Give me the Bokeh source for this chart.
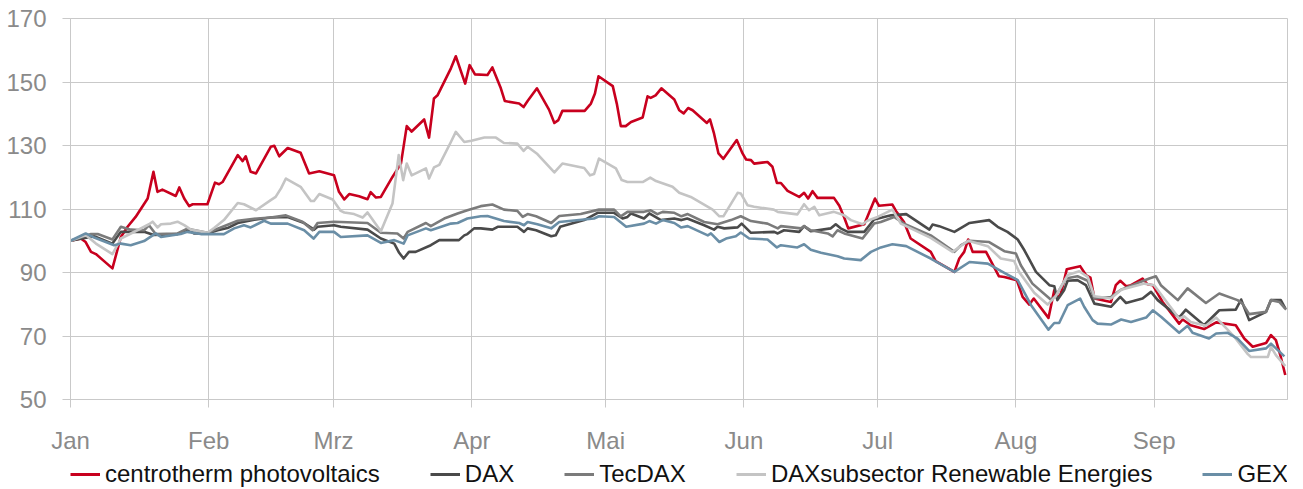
from bokeh.plotting import figure
from bokeh.models import FixedTicker, Legend, LegendItem
from bokeh.layouts import column
from bokeh.embed import file_html
from bokeh.resources import INLINE

# x values: days since 1 January
month_days = [0, 31, 59, 90, 120, 151, 181, 212, 243]
month_labels = ["Jan", "Feb", "Mrz", "Apr", "Mai", "Jun", "Jul", "Aug", "Sep"]
y_ticks = [50, 70, 90, 110, 130, 150, 170]

cp_days = [0, 2.3, 3.4, 4.6, 5.7, 9.4, 11.3, 12.8, 14.6, 17.3,
           18.6, 19.5, 20.6, 23.6, 24.4, 25.5, 26.6, 27.4, 30.7, 32.4,
           33.3, 34.1, 37.5, 38.6, 39.3, 40.4, 41.6, 44.9, 45.7, 46.8,
           48.7, 51.6, 53.5, 55.8, 59.1, 60.2, 61.4, 62.5, 64.7, 66.6,
           67.3, 68.5, 69.6, 72.2, 74.1, 75.4, 76.5, 79.3, 80.4, 81.5,
           82.3, 85.3, 86.4, 88.5, 89.5, 90.7, 93.5, 94.6, 96.5, 97.4,
           100.6, 101.6, 102.5, 104.6, 107.3, 108.5, 109.4, 110.3, 115.3, 116.7,
           117.6, 118.4, 121.6, 122.5, 123.4, 124.5, 125.7, 128.3, 129.4, 130.1,
           131.2, 132.5, 135.4, 136.5, 137.5, 138.5, 139.5, 142.7, 143.4, 144.3,
           145.3, 146.4, 149.4, 150.7, 151.5, 152.6, 153.3, 156.3, 157.4, 158.4,
           159.3, 160.8, 163.4, 164.5, 165.4, 166.4, 167.5, 171.2, 172.4, 173.5,
           174.4, 178.0, 179.3, 180.4, 181.3, 184.3, 185.1, 186.9, 188.4, 192.9,
           194.0, 198.2, 199.3, 200.4, 201.3, 202.3, 205.3, 208.2, 209.4, 212.2,
           213.5, 215.0, 216.0, 219.3, 220.6, 221.3, 222.1, 223.4, 226.4, 227.7,
           228.7, 229.6, 233.3, 234.4, 235.4, 236.7, 237.8, 240.4, 241.5, 242.7,
           244.9, 248.6, 249.4, 251.2, 254.2, 256.9, 261.3, 263.2, 265.1, 268.1,
           269.2, 270.3, 271.4, 272.4]
cp_vals = [100.0, 100.7, 99.6, 96.5, 95.8, 91.3, 101.2, 104.4, 107.5, 113.3,
           121.7, 115.4, 116.1, 114.1, 116.8, 113.3, 110.9, 111.5, 111.5, 118.3,
           117.8, 118.5, 127.0, 125.1, 126.6, 121.7, 121.2, 129.6, 129.9, 126.6,
           129.2, 127.7, 121.2, 121.9, 120.6, 115.4, 113.0, 114.7, 114.0, 113.1,
           115.3, 113.6, 113.8, 120.1, 124.3, 136.1, 134.4, 138.2, 132.5, 144.8,
           145.8, 154.3, 158.1, 149.5, 155.3, 152.4, 152.2, 154.6, 148.0, 144.0,
           143.2, 142.1, 144.0, 148.0, 141.3, 137.1, 138.0, 140.9, 140.9, 143.2,
           146.4, 151.8, 148.7, 143.2, 136.1, 136.1, 137.4, 138.8, 145.5, 145.0,
           145.8, 148.0, 144.5, 141.1, 140.1, 141.8, 141.1, 137.1, 138.2, 133.8,
           127.5, 125.8, 131.7, 127.5, 125.6, 125.4, 124.3, 124.8, 123.3, 118.2,
           118.2, 115.7, 113.8, 115.1, 113.3, 115.6, 113.5, 113.5, 111.0, 107.3,
           103.9, 105.2, 109.6, 113.3, 111.0, 111.4, 109.4, 105.9, 100.7, 96.5,
           93.6, 90.2, 94.4, 96.5, 100.4, 96.5, 96.5, 88.8, 88.6, 87.6,
           82.3, 79.9, 81.8, 75.7, 84.4, 81.8, 83.4, 91.0, 92.0, 89.2,
           88.4, 81.8, 80.7, 86.0, 87.4, 85.7, 86.0, 88.1, 86.3, 86.0,
           80.7, 73.9, 75.2, 73.4, 72.2, 74.3, 73.4, 69.2, 66.6, 67.8,
           70.3, 68.7, 63.4, 57.7]

dax_days = [0, 5.3, 9.4, 11.3, 16.5, 18.7, 24.0, 26.2, 27.7, 30.7,
            33.0, 35.2, 37.5, 41.2, 44.9, 48.7, 52.4, 54.6, 55.4, 59.1,
            60.6, 66.6, 69.6, 72.6, 73.7, 74.7, 75.9, 77.4, 80.8, 82.7,
            87.1, 88.3, 89.0, 90.5, 92.0, 94.6, 95.8, 100.2, 101.7, 102.5,
            104.4, 107.8, 108.8, 109.8, 115.2, 118.2, 121.9, 123.8, 124.9, 125.7,
            128.6, 129.8, 132.4, 135.4, 137.0, 138.3, 142.1, 144.3, 145.1, 146.6,
            149.6, 150.5, 152.6, 157.8, 158.6, 160.0, 163.4, 164.5, 166.0, 170.5,
            171.6, 172.7, 174.3, 178.0, 180.2, 184.0, 187.4, 192.6, 193.3, 194.8,
            198.2, 200.1, 201.6, 206.0, 207.9, 210.1, 212.4, 213.9, 216.5, 219.5,
            220.6, 221.3, 222.8, 223.6, 225.8, 227.7, 229.6, 233.3, 235.4, 236.7,
            240.4, 242.3, 243.8, 248.6, 250.1, 254.2, 257.6, 261.3, 262.5, 264.3,
            268.1, 269.2, 271.4, 272.4]
dax_vals = [100.0, 101.4, 99.1, 102.8, 102.8, 101.8, 102.1, 103.5, 102.3, 102.3,
            103.3, 104.0, 105.6, 106.6, 107.3, 107.5, 105.6, 103.5, 104.4, 104.9,
            104.4, 103.5, 100.7, 99.1, 96.2, 94.4, 96.5, 96.5, 98.6, 100.2,
            100.2, 101.7, 102.1, 103.9, 103.9, 103.5, 104.4, 104.4, 102.8, 103.9,
            103.3, 101.4, 101.7, 104.4, 106.5, 108.8, 108.8, 107.0, 107.5, 108.6,
            107.0, 108.6, 106.5, 107.0, 106.5, 107.0, 104.9, 103.5, 104.4, 103.9,
            104.2, 105.4, 102.5, 102.8, 102.3, 103.3, 102.8, 104.6, 103.0, 103.9,
            105.2, 103.9, 102.8, 102.8, 106.7, 108.0, 108.4, 103.5, 105.1, 104.6,
            102.8, 104.4, 105.6, 106.5, 104.4, 102.8, 100.4, 97.0, 90.2, 86.0,
            85.7, 81.3, 84.4, 87.4, 87.6, 86.0, 80.2, 79.2, 82.3, 80.4,
            81.8, 83.9, 81.3, 75.8, 78.3, 73.4, 78.1, 78.3, 81.5, 75.0,
            77.6, 81.3, 81.3, 78.7]

tec_days = [0, 4.6, 6.1, 9.4, 11.3, 13.5, 16.5, 17.6, 19.1, 24.0,
            26.2, 30.7, 33.0, 37.5, 41.9, 44.9, 48.3, 52.0, 54.3, 55.4,
            59.1, 66.6, 69.6, 73.3, 74.7, 75.6, 79.7, 80.8, 83.8, 86.8,
            89.0, 92.0, 94.6, 97.2, 100.2, 101.4, 102.5, 104.4, 107.8, 109.6,
            114.4, 118.5, 121.9, 123.4, 124.9, 128.6, 130.1, 131.6, 132.8, 135.4,
            137.0, 138.4, 142.1, 145.1, 148.1, 150.3, 152.6, 156.3, 158.6, 159.3,
            163.8, 164.5, 166.0, 169.8, 170.9, 172.0, 173.5, 177.6, 180.2, 181.7,
            184.7, 186.9, 192.9, 198.2, 199.7, 201.6, 206.0, 209.4, 212.0, 213.1,
            215.7, 219.8, 220.9, 223.2, 225.8, 228.1, 229.6, 233.3, 235.6, 241.9,
            243.4, 244.5, 248.3, 250.5, 254.6, 257.6, 261.7, 262.8, 264.3, 268.1,
            269.2, 271.1, 272.6]
tec_vals = [100.0, 102.1, 102.1, 100.4, 104.4, 103.5, 103.3, 104.9, 102.1, 102.3,
            103.8, 102.5, 103.8, 106.3, 107.0, 107.3, 108.0, 106.0, 103.3, 105.6,
            106.0, 105.6, 102.5, 102.3, 100.7, 102.8, 105.6, 104.6, 107.0, 108.6,
            109.6, 110.9, 111.4, 109.8, 109.4, 107.5, 108.4, 107.7, 105.6, 107.8,
            108.4, 109.8, 109.8, 107.7, 109.1, 109.1, 109.6, 108.4, 109.1, 108.8,
            107.7, 108.4, 105.9, 105.2, 106.5, 107.7, 106.2, 105.4, 103.9, 104.6,
            103.9, 104.6, 103.3, 102.3, 101.4, 103.3, 102.3, 100.7, 105.4, 105.9,
            107.5, 105.4, 101.7, 96.5, 98.6, 100.0, 99.6, 96.7, 96.0, 92.3,
            86.5, 81.5, 82.5, 88.1, 88.8, 87.4, 81.8, 82.3, 84.6, 88.1,
            88.8, 86.0, 81.3, 85.0, 80.4, 83.4, 81.3, 80.2, 76.9, 77.6,
            81.3, 80.7, 78.3]

ren_days = [0, 3.4, 5.7, 9.4, 11.3, 15.0, 17.6, 18.4, 19.5, 20.3,
            22.5, 24.0, 25.5, 27.0, 30.7, 32.2, 34.4, 37.5, 38.9, 41.6,
            44.9, 46.0, 47.2, 48.3, 51.6, 53.9, 54.6, 55.8, 58.8, 60.6,
            61.4, 63.6, 65.5, 66.6, 69.6, 72.2, 73.6, 74.6, 75.4, 76.5,
            79.7, 80.4, 81.5, 82.7, 85.3, 86.4, 88.3, 89.9, 92.8, 95.4,
            97.2, 100.2, 101.6, 102.5, 104.7, 108.5, 110.3, 115.2, 116.5, 117.4,
            118.5, 122.3, 123.6, 124.9, 128.3, 130.0, 131.3, 135.0, 136.5, 139.1,
            144.0, 145.5, 146.4, 149.6, 150.3, 151.8, 153.3, 157.7, 158.6, 163.0,
            164.5, 165.6, 166.8, 167.9, 171.2, 173.5, 175.0, 177.6, 178.7, 181.0,
            184.3, 186.2, 192.9, 197.8, 201.3, 205.7, 208.6, 211.6, 212.7, 216.1,
            219.1, 220.9, 223.6, 226.2, 228.1, 229.6, 233.3, 235.6, 240.8, 243.0,
            248.6, 249.7, 251.2, 254.6, 256.9, 261.0, 264.0, 264.7, 268.5, 269.2,
            270.3, 272.4]
ren_vals = [100.0, 101.8, 99.1, 95.8, 100.7, 103.3, 105.2, 106.0, 104.2, 105.2,
            105.4, 106.0, 104.9, 103.5, 102.5, 104.0, 106.5, 111.9, 111.5, 109.6,
            112.8, 113.8, 116.5, 119.6, 117.0, 112.5, 112.5, 114.7, 113.0, 109.4,
            108.9, 108.4, 107.3, 108.9, 103.0, 111.7, 127.0, 119.1, 124.3, 120.6,
            122.8, 119.6, 123.1, 123.9, 131.1, 134.3, 131.1, 131.5, 132.5, 132.5,
            130.8, 130.6, 128.3, 129.6, 127.3, 121.5, 124.3, 122.9, 120.6, 121.0,
            125.9, 122.8, 119.1, 118.5, 118.5, 119.9, 118.8, 117.0, 115.1, 113.8,
            109.8, 107.7, 107.7, 115.1, 114.9, 111.2, 110.7, 109.8, 109.1, 108.3,
            111.5, 109.6, 110.7, 108.0, 109.1, 108.0, 106.5, 105.2, 106.3, 107.5,
            109.8, 105.4, 100.9, 96.5, 100.0, 98.3, 94.4, 93.6, 90.2, 83.6,
            79.9, 82.5, 89.2, 90.4, 88.6, 82.5, 81.8, 84.6, 86.5, 86.0,
            75.5, 76.2, 74.4, 73.2, 75.8, 69.7, 64.3, 63.4, 63.4, 66.6,
            64.0, 60.5]

gex_days = [0, 3.4, 5.3, 9.8, 11.3, 13.5, 16.5, 19.1, 20.3, 24.7,
            26.2, 29.2, 34.4, 36.7, 38.9, 40.4, 43.4, 44.9, 48.7, 52.4,
            54.5, 55.8, 59.1, 60.6, 66.6, 69.6, 72.6, 74.7, 75.6, 79.7,
            80.8, 85.3, 86.8, 89.0, 92.0, 93.5, 97.2, 100.6, 101.7, 102.5,
            104.7, 107.8, 109.6, 117.4, 118.5, 121.9, 124.6, 128.6, 129.8, 131.3,
            132.8, 135.4, 136.9, 138.4, 142.9, 143.6, 145.5, 147.0, 149.2, 150.3,
            152.2, 156.3, 158.4, 159.3, 163.0, 164.5, 166.0, 168.3, 172.0, 173.5,
            177.2, 179.5, 181.7, 184.3, 187.4, 192.9, 198.2, 201.6, 205.7, 209.4,
            212.4, 215.4, 219.3, 220.6, 221.7, 223.6, 226.4, 227.3, 229.2, 230.3,
            233.3, 235.6, 237.8, 241.2, 242.7, 244.6, 248.6, 250.5, 251.6, 255.3,
            256.9, 259.5, 261.7, 264.3, 268.1, 269.2, 272.2]
gex_vals = [100.0, 102.3, 101.0, 98.6, 99.1, 98.6, 99.9, 102.3, 101.2, 102.1,
            102.8, 102.1, 102.1, 103.9, 104.9, 104.2, 106.3, 105.4, 105.4, 103.3,
            100.7, 102.8, 102.8, 101.2, 101.7, 99.3, 100.2, 99.1, 101.7, 103.9,
            103.3, 105.4, 105.6, 107.0, 107.7, 107.8, 106.2, 105.6, 104.9, 105.9,
            105.2, 103.9, 105.9, 107.0, 107.7, 107.5, 104.4, 105.4, 106.2, 105.4,
            106.5, 105.6, 104.2, 104.6, 101.7, 102.3, 99.6, 100.7, 101.4, 102.6,
            100.7, 100.4, 97.9, 98.6, 97.9, 98.9, 97.2, 96.2, 95.1, 94.4,
            93.9, 96.5, 97.9, 98.9, 98.3, 94.4, 90.2, 93.3, 92.8, 89.9,
            87.6, 79.7, 72.0, 74.1, 74.1, 79.7, 81.8, 79.2, 75.0, 73.9,
            73.6, 75.2, 74.4, 75.8, 78.1, 76.0, 71.0, 73.2, 71.0, 69.2,
            70.8, 71.0, 69.2, 65.3, 66.1, 67.6, 63.6]

series = [
    ("centrotherm photovoltaics", cp_days, cp_vals, "#c8001e"),
    ("DAX", dax_days, dax_vals, "#4a4a4a"),
    ("TecDAX", tec_days, tec_vals, "#7b7b7b"),
    ("DAXsubsector Renewable Energies", ren_days, ren_vals, "#c4c4c4"),
    ("GEX", gex_days, gex_vals, "#6a8ea6"),
]

FONT = "Liberation Sans"
GRID = "#c9c9c9"
LABEL = "#8a8a8a"
LINE_W = 2.6

# ---- main chart ----
p = figure(width=1303, height=459,
           x_range=(0, 272.9), y_range=(50, 170),
           output_backend="svg", toolbar_location=None,
           min_border_left=70, min_border_right=16,
           min_border_top=18, min_border_bottom=60)
p.background_fill_color = "white"
p.border_fill_color = "white"
p.outline_line_color = GRID
p.outline_line_width = 1

for name, xs, ys, col in series:
    p.line(xs, ys, line_color=col, line_width=LINE_W, line_join="round")

p.xaxis.ticker = FixedTicker(ticks=month_days)
p.xaxis.major_label_overrides = {d: m for d, m in zip(month_days, month_labels)}
p.yaxis.ticker = FixedTicker(ticks=y_ticks)

for ax in (p.xaxis, p.yaxis):
    ax.axis_label = None
    ax.axis_line_color = GRID
    ax.major_tick_line_color = GRID
    ax.major_tick_out = 8
    ax.major_tick_in = 0
    ax.minor_tick_line_color = None
    ax.major_label_text_font = FONT
    ax.major_label_text_font_size = "24px"
    ax.major_label_text_color = LABEL
p.xaxis.major_label_standoff = 19
p.yaxis.major_label_standoff = 16

p.xgrid.grid_line_color = GRID
p.ygrid.grid_line_color = GRID
p.xgrid.ticker = FixedTicker(ticks=month_days)
p.ygrid.ticker = FixedTicker(ticks=y_ticks)

# ---- legend strip below the chart (series drawn out of view; only the legend shows) ----
lg = figure(width=1303, height=30, x_range=(0, 1), y_range=(0, 1),
            output_backend="svg", toolbar_location=None,
            x_axis_location=None, y_axis_location=None,
            min_border=0, min_border_left=0, min_border_right=0,
            min_border_top=0, min_border_bottom=0)
lg.outline_line_color = None
lg.xgrid.visible = False
lg.ygrid.visible = False
lg.background_fill_color = "white"
lg.border_fill_color = "white"

items = []
for name, xs, ys, col in series:
    r = lg.line(xs, ys, line_color=col, line_width=LINE_W + 0.4)
    items.append(LegendItem(label=name, renderers=[r]))

legend = Legend(items=items, orientation="horizontal", location=(0, 0),
                padding=0, margin=0, spacing=50,
                glyph_width=30, glyph_height=30, label_height=30,
                label_standoff=5,
                label_text_font=FONT, label_text_font_size="24px",
                label_text_color="#111111",
                background_fill_alpha=0, border_line_alpha=0)
lg.add_layout(legend, "center")

layout = column(p, lg, spacing=0)
open("out.html", "w").write(file_html(layout, INLINE))
